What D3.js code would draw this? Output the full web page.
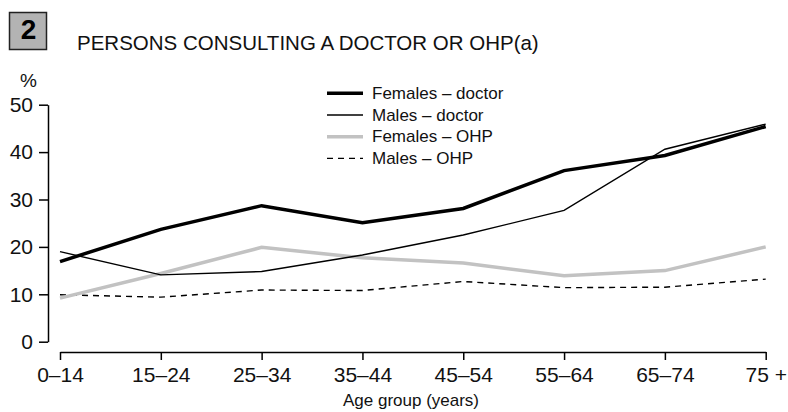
<!DOCTYPE html>
<html>
<head>
<meta charset="utf-8">
<script src="https://cdn.jsdelivr.net/npm/d3@7"></script>
<style>
  html, body { margin: 0; padding: 0; background: #fff; }
  svg { display: block; font-family: "Liberation Sans", Arial, sans-serif; }
</style>
</head>
<body>
<svg id="chart" width="788" height="412"></svg>
<script>
const categories = ["0–14", "15–24", "25–34", "35–44", "45–54", "55–64", "65–74", "75 +"];
const femalesDoctor = [16.9, 23.7, 28.7, 25.1, 28.1, 36.1, 39.3, 45.4];
const malesDoctor   = [19.0, 14.1, 14.8, 18.3, 22.5, 27.7, 40.6, 45.9];
const femalesOHP    = [9.2, 14.4, 19.9, 17.7, 16.6, 13.9, 15.0, 20.0];
const malesOHP      = [9.9, 9.4, 10.9, 10.8, 12.7, 11.4, 11.5, 13.2];
const yTicks = [0, 10, 20, 30, 40, 50];
const seriesNames = ["Females – doctor", "Males – doctor", "Females – OHP", "Males – OHP"];

const series = [
  { name: seriesNames[0], values: femalesDoctor, color: "#000", width: 3.5, dash: null },
  { name: seriesNames[1], values: malesDoctor, color: "#000", width: 1.4, dash: null },
  { name: seriesNames[2], values: femalesOHP, color: "#c2c2c2", width: 3.5, dash: null },
  { name: seriesNames[3], values: malesOHP, color: "#000", width: 1.4, dash: "6,5" }
];

const svg = d3.select("#chart");

const x = d3.scalePoint().domain(categories).range([60, 765.7]);
const y = d3.scaleLinear().domain([0, 50]).range([341.7, 104.7]);

// Title box
svg.append("rect").attr("x", 9.5).attr("y", 12.5).attr("width", 37).attr("height", 37)
  .attr("fill", "#b3b3b3").attr("stroke", "#222").attr("stroke-width", 1.5);
svg.append("text").attr("x", 28.5).attr("y", 38.5).attr("text-anchor", "middle")
  .attr("font-size", 28).attr("font-weight", "bold").attr("fill", "#000").text("2");

svg.append("text").attr("x", 77).attr("y", 50).attr("font-size", 20.5)
  .attr("fill", "#111").text("PERSONS CONSULTING A DOCTOR OR OHP(a)");

svg.append("text").attr("x", 28.5).attr("y", 87).attr("text-anchor", "middle")
  .attr("font-size", 19).attr("fill", "#111").text("%");

// Y axis
const yAxis = svg.append("g").attr("transform", "translate(48,0)")
  .call(d3.axisLeft(y).tickValues(yTicks).tickSize(9).tickSizeOuter(0).tickPadding(6));
yAxis.select(".domain").attr("stroke", "#000").attr("stroke-width", 1.5);
yAxis.selectAll(".tick line").attr("stroke", "#000").attr("stroke-width", 1.5);
yAxis.selectAll(".tick text").attr("font-size", 21).attr("fill", "#111")
  .attr("font-family", "Liberation Sans, Arial, sans-serif");

// X axis
const xAxis = svg.append("g").attr("transform", "translate(0,352)")
  .call(d3.axisBottom(x).tickSize(8).tickSizeOuter(0).tickPadding(7));
xAxis.select(".domain").attr("stroke", "#000").attr("stroke-width", 1.5);
xAxis.selectAll(".tick line").attr("stroke", "#000").attr("stroke-width", 1.5);
xAxis.selectAll(".tick text").attr("font-size", 21).attr("fill", "#111")
  .attr("font-family", "Liberation Sans, Arial, sans-serif");

svg.append("text").attr("x", 411).attr("y", 406).attr("text-anchor", "middle")
  .attr("font-size", 17).attr("fill", "#111").text("Age group (years)");

// Lines
const line = d3.line().x((d, i) => x(categories[i])).y(d => y(d));
const drawOrder = [3, 2, 1, 0];
drawOrder.forEach(k => {
  const s = series[k];
  svg.append("path").datum(s.values).attr("d", line)
    .attr("fill", "none").attr("stroke", s.color).attr("stroke-width", s.width)
    .attr("stroke-dasharray", s.dash).attr("stroke-linejoin", "miter");
});

// Legend
const legend = svg.append("g");
series.forEach((s, i) => {
  const ly = 93.3 + i * 21.7;
  legend.append("line").attr("x1", 327).attr("x2", 363).attr("y1", ly).attr("y2", ly)
    .attr("stroke", s.color).attr("stroke-width", s.width).attr("stroke-dasharray", s.dash);
  legend.append("text").attr("x", 372).attr("y", ly + 5.5).attr("font-size", 17)
    .attr("fill", "#111").text(s.name);
});
</script>
</body>
</html>
